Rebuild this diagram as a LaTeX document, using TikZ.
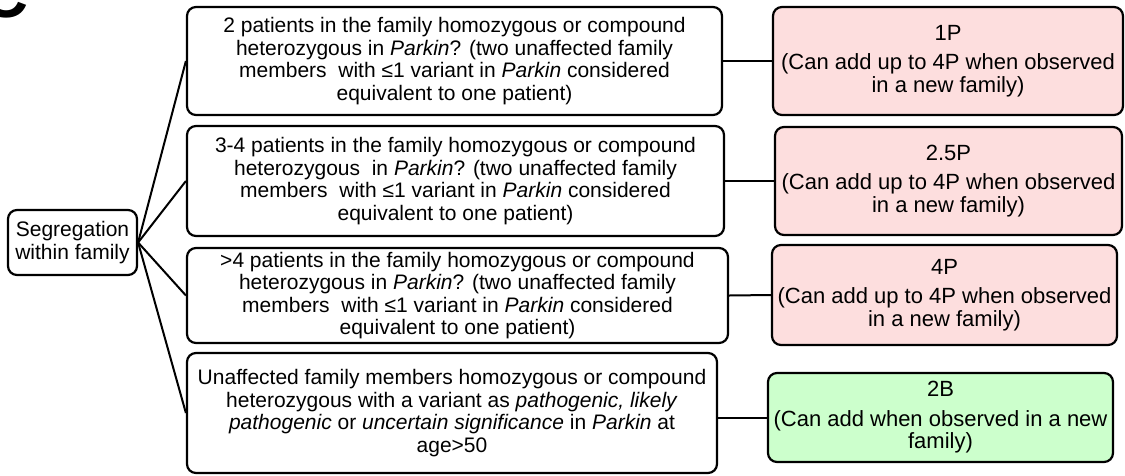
\documentclass[tikz,border=0pt]{standalone}
\usepackage{fontspec}
\setmainfont{Liberation Sans}
\definecolor{pinkfill}{HTML}{FDDEDE}
\definecolor{greenfill}{HTML}{CCFFCC}
\tikzset{
  box/.style={draw, line width=2.2pt, rounded corners=9pt, align=center, inner sep=2pt,
    font=\fontsize{21}{22.5}\selectfont},
  pinkbox/.style={box, fill=pinkfill, font=\fontsize{22}{22.5}\selectfont},
  greenbox/.style={box, fill=greenfill, font=\fontsize{22}{22.5}\selectfont},
  conn/.style={line width=2pt},
}
\begin{document}
\begin{tikzpicture}[x=1pt,y=-1pt]
\useasboundingbox (0,0) rectangle (1125,475);
\begin{scope}
\clip (0,0) rectangle (1125,475);
\node[font=\fontsize{65}{65}\selectfont\bfseries, anchor=base, inner sep=0pt] (panel) at (5,17) {C};
\end{scope}

\node[box, minimum width=129pt, minimum height=65pt] (seg) at (72.5,242.5) {Segregation\\within family};

\node[box, minimum width=535pt, minimum height=108pt] (b1) at (454.5,61)
  {2 patients in the family homozygous or compound\\
   heterozygous in \textit{Parkin}? (two unaffected family\\
   members\ \ with ≤1 variant in \textit{Parkin} considered\\
   equivalent to one patient)};
\node[box, minimum width=537pt, minimum height=110pt] (b2) at (455.5,181)
  {3-4 patients in the family homozygous or compound\\
   heterozygous\ \ in \textit{Parkin}? (two unaffected family\\
   members\ \ with ≤1 variant in \textit{Parkin} considered\\
   equivalent to one patient)};
\node[box, minimum width=541pt, minimum height=95pt] (b3) at (457.5,295.5)
  {>4 patients in the family homozygous or compound\\
   heterozygous in \textit{Parkin}? (two unaffected family\\
   members\ \ with ≤1 variant in \textit{Parkin} considered\\
   equivalent to one patient)};
\node[box, minimum width=530pt, minimum height=120pt] (b4) at (452,413)
  {Unaffected family members homozygous or compound\\
   heterozygous with a variant as \textit{pathogenic, likely}\\
   \textit{pathogenic} or \textit{uncertain significance} in \textit{Parkin} at\\
   age>50};

\node[pinkbox, minimum width=350pt, minimum height=108pt] (r1) at (948,61)
  {1P\\[7pt](Can add up to 4P when observed\\in a new family)};
\node[pinkbox, minimum width=347pt, minimum height=108pt] (r2) at (948.5,181)
  {2.5P\\[7pt](Can add up to 4P when observed\\in a new family)};
\node[pinkbox, minimum width=345pt, minimum height=100pt] (r3) at (944.5,295)
  {4P\\[7pt](Can add up to 4P when observed\\in a new family)};
\node[greenbox, minimum width=345pt, minimum height=89pt] (r4) at (940.5,417.5)
  {2B\\[7pt](Can add when observed in a new\\family)};

\foreach \b in {b1,b2,b3,b4}{
  \draw[conn] (seg.east) -- (\b.west);
}
\draw[conn] (b1.east) -- (r1.west);
\draw[conn] (b2.east) -- (r2.west);
\draw[conn] (b3.east) -- (r3.west);
\draw[conn] (b4.east |- r4.west) -- (r4.west);
\end{tikzpicture}
\end{document}
